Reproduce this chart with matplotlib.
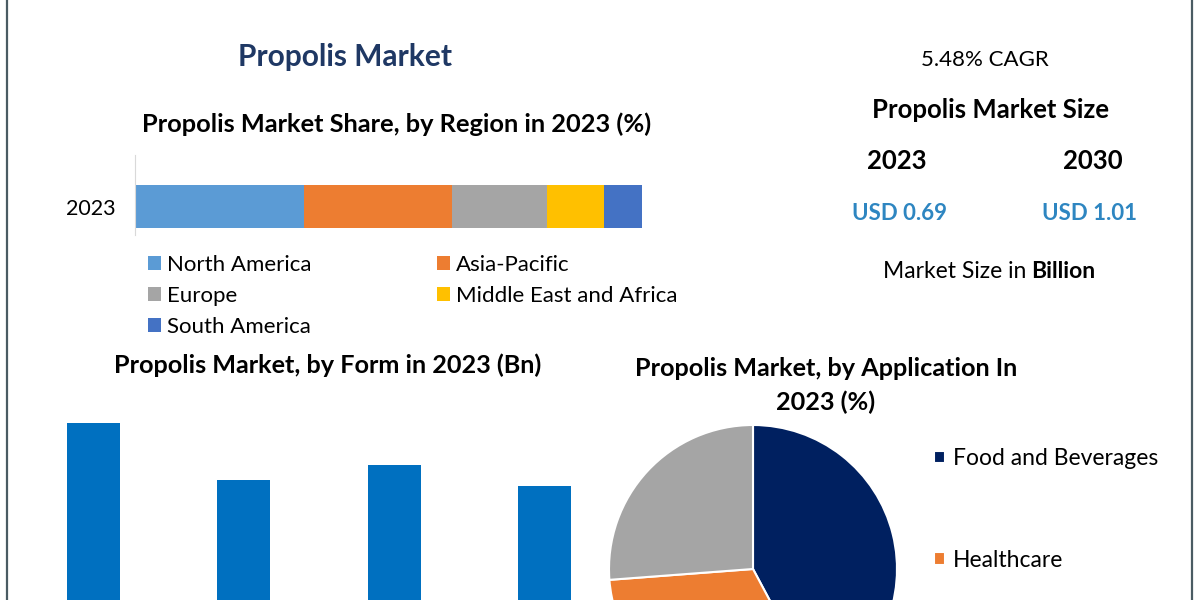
import numpy as np
import matplotlib.pyplot as plt
from matplotlib.lines import Line2D

plt.rcParams['font.family'] = ['Lato', 'DejaVu Sans']

# region share 2023 (%)
regions = ['North America', 'Asia-Pacific', 'Europe', 'Middle East and Africa', 'South America']
region_share = [33.3, 29.2, 18.7, 11.3, 7.5]
region_colors = ['#5b9bd5', '#ed7d31', '#a5a5a5', '#ffc000', '#4472c4']

# form 2023 (Bn), labels cut off in the picture
form_values = [0.21, 0.16, 0.173, 0.155]

# application 2023 (%)
apps = ['Food and Beverages', 'Healthcare', 'Cosmetics']
app_share = [42.2, 31.6, 26.2]
app_colors = ['#002060', '#ed7d31', '#a5a5a5']

cagr = '5.48% CAGR'
years = ['2023', '2030']
sizes = ['USD 0.69', 'USD 1.01']

W, H = 1200, 600


def fx(x):
    return x / W


def fy(y):
    return 1 - y / H


def main():
    fig = plt.figure(figsize=(12, 6), dpi=100)

    # frame lines left and right
    for x in (7, 1192):
        fig.add_artist(Line2D([fx(x), fx(x)], [0, 1], color='#4a5c63', lw=1.6))

    fig.text(fx(345), fy(57), 'Propolis Market', ha='center', va='center',
             fontsize=21.5, fontweight='bold', color='#1f3864')
    fig.text(fx(397), fy(124), 'Propolis Market Share, by Region in 2023 (%)',
             ha='center', va='center', fontsize=18.3, fontweight='bold')

    # stacked region bar
    ax1 = fig.add_axes([fx(135), fy(235), 507 / W, 80 / H])
    left = 0
    bars = []
    for name, val, c in zip(regions, region_share, region_colors):
        b = ax1.barh([0], [val], left=left, height=0.54, color=c, label=name)
        bars.append(b)
        left += val
    ax1.set_xlim(0, sum(region_share))
    ax1.set_ylim(-0.356, 0.644)
    ax1.set_yticks([0])
    ax1.set_yticklabels(['2023'], fontsize=15.5)
    ax1.tick_params(axis='y', length=0, pad=14)
    ax1.set_xticks([])
    for s in ['top', 'right', 'bottom']:
        ax1.spines[s].set_visible(False)
    ax1.spines['left'].set_color('#d9d9d9')
    order = [0, 2, 4, 1, 3]
    ax1.legend([bars[i] for i in order], [regions[i] for i in order],
               ncol=2, frameon=False, fontsize=16,
               loc='upper left', bbox_to_anchor=(fx(137), fy(244)),
               bbox_transform=fig.transFigure,
               handlelength=0.6, handleheight=0.6, handletextpad=0.25,
               labelspacing=0.49, columnspacing=5.65, borderpad=0)

    # right text panel
    fig.text(fx(985), fy(60), cagr, ha='center', va='center', fontsize=16)
    fig.text(fx(990), fy(110), 'Propolis Market Size', ha='center', va='center',
             fontsize=18.5, fontweight='bold')
    for xc, yr in zip([897, 1093], years):
        fig.text(fx(xc), fy(161), yr, ha='center', va='center', fontsize=18.5,
                 fontweight='bold')
    for xc, s in zip([900, 1090], sizes):
        fig.text(fx(xc), fy(213), s, ha='center', va='center', fontsize=16,
                 fontweight='bold', color='#2e86c1')
    fig.text(fx(1026), fy(271), 'Market Size in', ha='right', va='center',
             fontsize=16.5)
    fig.text(fx(1031), fy(271), 'Billion', ha='left', va='center',
             fontsize=16.5, fontweight='bold')

    # form bars
    fig.text(fx(328), fy(365), 'Propolis Market, by Form in 2023 (Bn)',
             ha='center', va='center', fontsize=18.2, fontweight='bold')
    ax2 = fig.add_axes([fx(18), fy(662), 602 / W, 341 / H])
    ax2.bar(np.arange(len(form_values)), form_values, width=0.35, color='#0070c0')
    ax2.set_xlim(-0.5, 3.5)
    ax2.set_ylim(0, 0.3)
    ax2.axis('off')

    # application pie
    fig.text(fx(826), fy(368), 'Propolis Market, by Application In', ha='center',
             va='center', fontsize=18.2, fontweight='bold')
    fig.text(fx(826), fy(402), '2023 (%)', ha='center', va='center',
             fontsize=18.2, fontweight='bold')
    r = 144
    ax3 = fig.add_axes([fx(753 - r), fy(569 + r), 2 * r / W, 2 * r / H])
    wedges, _ = ax3.pie(app_share, colors=app_colors, startangle=90,
                        counterclock=False,
                        wedgeprops=dict(edgecolor='white', linewidth=1.5))
    ax3.set_xlim(-1, 1)
    ax3.set_ylim(-1, 1)
    ax3.set_aspect('auto')
    # third entry falls below the cut edge of the picture
    ax3.legend(wedges[:2], apps[:2], frameon=False, fontsize=16.5, loc='upper left',
               bbox_to_anchor=(fx(923), fy(437)), bbox_transform=fig.transFigure,
               handlelength=0.45, handleheight=0.45, handletextpad=0.35,
               labelspacing=3.5, borderpad=0)

    plt.savefig('out.png', dpi=100)


if __name__ == '__main__':
    main()
